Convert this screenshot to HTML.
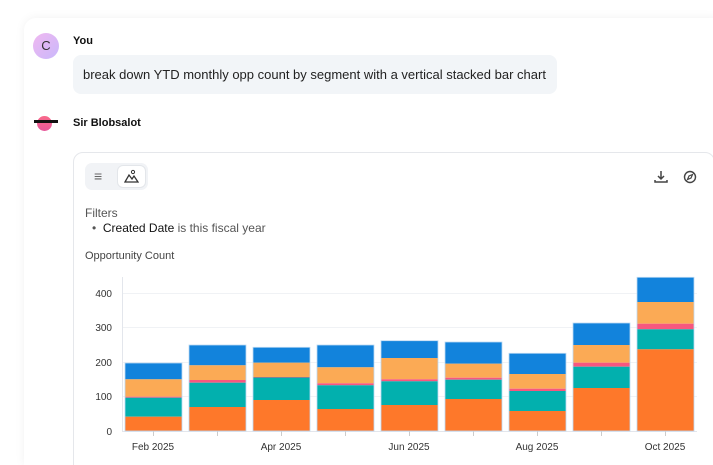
<!DOCTYPE html>
<html><head><meta charset="utf-8"><style>
html,body{margin:0;width:713px;height:465px;overflow:hidden}
body{background:#fff;font-family:"Liberation Sans",sans-serif;position:relative;color:#111}
.a{position:absolute}
</style></head><body>
<div class="a" style="left:24px;top:18px;width:700px;height:447px;border-radius:12px 12px 0 0;box-shadow:0 0 10px rgba(0,0,0,0.06);background:#fff"></div>
<div class="a" style="left:33px;top:33px;width:26px;height:26px;border-radius:50%;background:linear-gradient(135deg,#f0b8f0,#c9b8fb);font-size:13px;color:#333;text-align:center;line-height:26px">C</div>
<div class="a" style="left:73px;top:35px;font-size:11px;font-weight:bold">You</div>
<div class="a" style="left:73px;top:55px;width:484px;height:39px;border-radius:8px;background:#f2f5f8;font-size:13px;line-height:39px;padding-left:10px;box-sizing:border-box;white-space:nowrap;color:#222;overflow:hidden">break down YTD monthly opp count by segment with a vertical stacked bar chart</div>
<div class="a" style="left:37px;top:116px;width:15px;height:15px;border-radius:50%;background:linear-gradient(#f96a8a,#e5579a)"></div>
<div class="a" style="left:34px;top:120px;width:24px;height:3px;background:#111"></div>
<div class="a" style="left:73px;top:117px;font-size:11px;font-weight:bold">Sir Blobsalot</div>
<div class="a" style="left:73px;top:152px;width:640px;height:330px;border:1px solid #e5e7eb;border-radius:10px"></div>
<div class="a" style="left:85px;top:163px;width:63px;height:27px;border-radius:7px;background:#f1f3f6"></div>
<div class="a" style="left:94px;top:168px;font-size:14px;color:#666">≡</div>
<div class="a" style="left:117px;top:165px;width:29px;height:23px;border-radius:6px;background:#fff;border:1px solid #e3e6ea;box-sizing:border-box"></div>
<svg class="a" style="left:124px;top:169px" width="15" height="15"><path d="M1 13 L5 6 L8 10 L10 7 L14 13 Z" fill="none" stroke="#333" stroke-width="1.3"/><circle cx="9" cy="3" r="1.6" fill="none" stroke="#333"/></svg>
<svg class="a" style="left:654px;top:170px" width="14" height="14"><path d="M7 1 V9 M4 6 L7 9 L10 6 M1 10 V12 H13 V10" fill="none" stroke="#444" stroke-width="1.5"/></svg>
<svg class="a" style="left:683px;top:170px" width="14" height="14"><circle cx="7" cy="7" r="5.5" fill="none" stroke="#444" stroke-width="1.4"/><path d="M9.5 4.5 L6 6 L4.5 9.5 L8 8 Z" fill="none" stroke="#444" stroke-width="1.2"/></svg>
<div class="a" style="left:85px;top:206px;font-size:12px;color:#555">Filters</div>
<div class="a" style="left:92px;top:221px;font-size:12px;color:#555">•&nbsp;&nbsp;<span style="color:#111">Created Date</span> is this fiscal year</div>
<div class="a" style="left:85px;top:250px;font-size:11px;color:#444">Opportunity Count</div>
<svg class="a" style="left:0;top:0" width="713" height="465">
<g stroke="#f0f2f5" stroke-width="1">
<line x1="122" x2="697" y1="293.5" y2="293.5"/><line x1="122" x2="697" y1="327.5" y2="327.5"/><line x1="122" x2="697" y1="362.5" y2="362.5"/><line x1="122" x2="697" y1="396.5" y2="396.5"/>
</g>
<line x1="122.5" x2="122.5" y1="277" y2="431" stroke="#e3e6ec"/>
<line x1="122" x2="697" y1="431.5" y2="431.5" stroke="#e3e6ec"/>
<g font-size="10" fill="#333" text-anchor="end">
<text x="112" y="297">400</text><text x="112" y="331">300</text><text x="112" y="366">200</text><text x="112" y="400">100</text><text x="112" y="435">0</text>
</g>
<g stroke="#ccc"><line x1="153.5" x2="153.5" y1="431" y2="436"/><line x1="217.5" x2="217.5" y1="431" y2="436"/><line x1="281.5" x2="281.5" y1="431" y2="436"/><line x1="345.5" x2="345.5" y1="431" y2="436"/><line x1="409.5" x2="409.5" y1="431" y2="436"/><line x1="473.5" x2="473.5" y1="431" y2="436"/><line x1="537.5" x2="537.5" y1="431" y2="436"/><line x1="601.5" x2="601.5" y1="431" y2="436"/><line x1="665.5" x2="665.5" y1="431" y2="436"/></g>
<g font-size="10" fill="#333" text-anchor="middle">
<text x="153" y="450">Feb 2025</text><text x="281" y="450">Apr 2025</text><text x="409" y="450">Jun 2025</text><text x="537" y="450">Aug 2025</text><text x="665" y="450">Oct 2025</text>
</g>
<g id="bars"></g>
</svg>
<script>
var d=[[363,379.3,396.7,397.7,416.7],[345,365.3,380,382.7,407],[347.3,362.7,377,377.5,400],[345,367.3,383.3,385.3,409],[340.7,358,379.3,381.3,405],[342,363.7,377.7,379.7,399],[353.3,374,388.7,391,411],[323,345,362.7,366.7,388],[277.3,302,323.7,329.3,349.3]];
var c=["#1283dc","#fbaa55","#f7577f","#02b0ae","#fe782a"],s="";
d.forEach(function(b,i){var x=125+i*64;for(var k=0;k<5;k++){var y0=b[k],y1=k<4?b[k+1]:431;s+='<rect x="'+x+'" y="'+y0+'" width="57" height="'+(y1-y0)+'" fill="'+c[k]+'"/>';}s+='<rect x="'+x+'" y="'+b[0]+'" width="57" height="'+(431-b[0])+'" fill="none" stroke="#bcd9f3" stroke-width="0.8"/>';});
document.getElementById("bars").innerHTML=s;
</script>
</body></html>
